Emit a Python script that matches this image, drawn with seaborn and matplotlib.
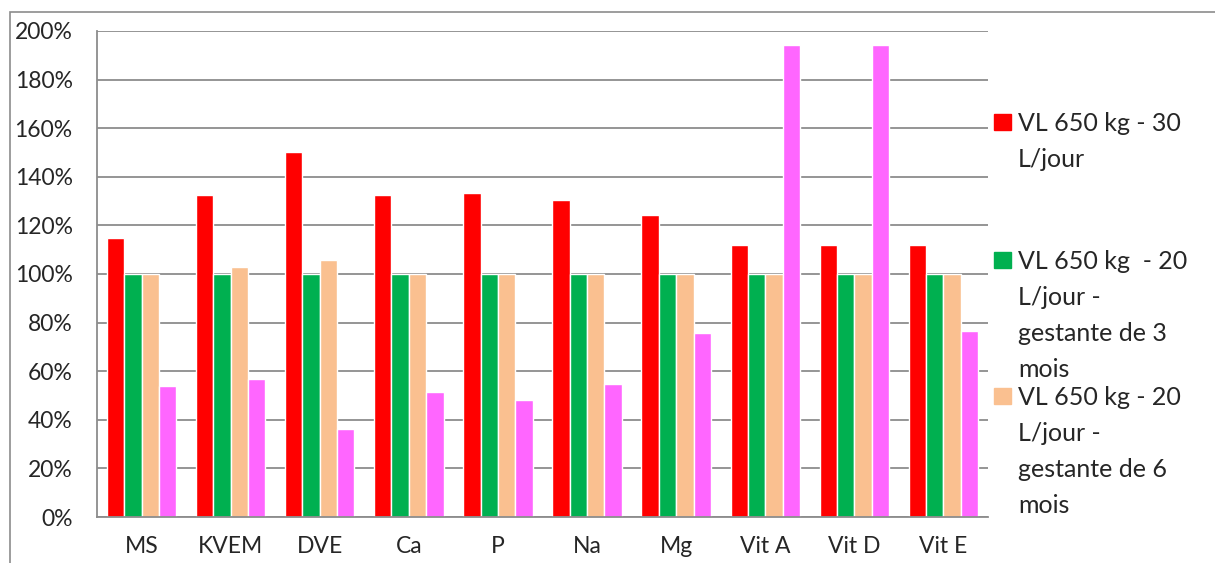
import pandas as pd
import numpy as np
import seaborn as sns
import matplotlib
matplotlib.use("Agg")
from matplotlib import pyplot as plt
from matplotlib.patches import Rectangle

# donnees (% des besoins)
categories = ["MS", "KVEM", "DVE", "Ca", "P", "Na", "Mg", "Vit A", "Vit D", "Vit E"]
vl30 = [115, 132.7, 150.2, 132.4, 133.5, 130.4, 124.4, 111.9, 111.9, 111.9]
vl20_g3 = [100, 100, 100, 100, 100, 100, 100, 100, 100, 100]
vl20_g6 = [100, 102.8, 105.9, 100, 100, 100, 100, 100, 100, 100]
serie4 = [54.1, 56.9, 36.4, 51.4, 48.0, 54.7, 75.6, 194.4, 194.4, 76.6]

series = ["VL 650 kg - 30\nL/jour",
          "VL 650 kg  - 20\nL/jour -\ngestante de 3\nmois",
          "VL 650 kg - 20\nL/jour -\ngestante de 6\nmois",
          "serie 4"]
couleurs = ["#FF0000", "#00B050", "#FAC090", "#FF66FF"]

#%%
df = pd.DataFrame({
    "categorie": categories * 4,
    "serie": [s for s in series for _ in categories],
    "valeur": vl30 + vl20_g3 + vl20_g6 + serie4,
})

sns.set_style("white")
plt.rcParams["font.family"] = ["Lato", "DejaVu Sans"]

W, H = 1215, 563
fig = plt.figure(figsize=(W / 100, H / 100), dpi=100)
ax = fig.add_axes([97 / W, 1 - 517 / H, (988 - 97) / W, (517 - 31) / H])

sns.barplot(data=df, x="categorie", y="valeur", hue="serie", palette=couleurs,
            width=0.78, gap=0, saturation=1, legend=False, ax=ax)

# axes facon Excel
gris = "#8C8C8C"
ax.set_ylim(0, 200)
ax.set_xlim(-0.5, len(categories) - 0.5)
ax.set_yticks(np.arange(0, 201, 20))
ax.set_yticklabels([f"{v}%" for v in range(0, 201, 20)], fontsize=16.5)
ax.yaxis.grid(True, color=gris, linewidth=1.3)
ax.set_axisbelow(True)
ax.tick_params(axis="y", length=6.5, width=1.3, color=gris, pad=11)
ax.tick_params(axis="x", length=0, labelsize=16.5, pad=14)
ax.set_xticks(np.arange(-0.5, len(categories), 1), minor=True)
ax.tick_params(axis="x", which="minor", length=6, width=1.3, color=gris)
ax.set_xlabel("")
ax.set_ylabel("")
for s in ["top", "right"]:
    ax.spines[s].set_visible(False)
for s in ["left", "bottom"]:
    ax.spines[s].set_color(gris)
    ax.spines[s].set_linewidth(1.3)

# legende a la main (la 4e serie est coupee dans l'original)
pos_y = [122, 260, 396]
for lab, c, y in zip(series[:3], couleurs[:3], pos_y):
    fig.add_artist(Rectangle((994 / W, 1 - (y + 8) / H), 17 / W, 16 / H,
                             transform=fig.transFigure, color=c))
    fig.text(1018 / W, 1 - (y - 10) / H, lab, fontsize=18, va="top", ha="left",
             linespacing=1.68)

# cadre du graphique
fig.add_artist(Rectangle((10 / W, -0.1), 2, 1.1 - 12 / H, transform=fig.transFigure,
                         fill=False, edgecolor=gris, linewidth=1.2))

plt.savefig("out.png", dpi=100)
